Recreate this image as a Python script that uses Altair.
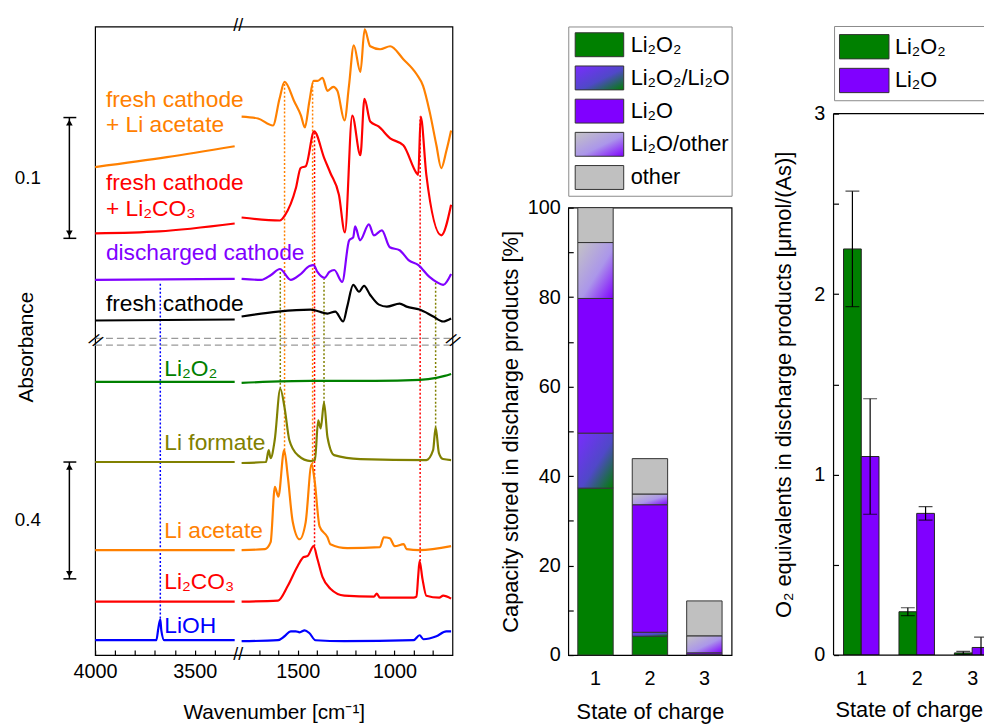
import altair as alt
import pandas as pd

FONT = "Liberation Sans"
ORANGE, RED, PURPLE, BLACK = "#ff8000", "#ff0000", "#8000ff", "#000000"
GREEN, OLIVE, BLUE, GRAY = "#008000", "#808000", "#0000ff", "#c0c0c0"

# ---------------- FTIR spectra ----------------
# (wavenumber [cm-1], stacked absorbance offset [a.u.]);  _HI: 4000-3300, _FP: 1790-700
CAT_ACET_HI = [(4000, 493), (3640, 503), (3300, 514)]
CAT_ACET_FP = [(1790, 544), (1705, 542), (1628, 535), (1594, 562), (1568, 579), (1517, 559),
               (1483, 545), (1463, 533), (1440, 559), (1418, 580), (1398, 580), (1372, 583),
               (1346, 570), (1316, 574), (1295, 570), (1258, 540), (1235, 575), (1210, 616),
               (1176, 589), (1154, 632), (1125, 615), (1074, 612), (1022, 615), (954, 602),
               (886, 587), (852, 575), (818, 549), (783, 515), (758, 492), (732, 509), (707, 530)]
CAT_CARB_HI = [(4000, 426), (3680, 428), (3300, 436)]
CAT_CARB_FP = [(1792, 442), (1592, 439), (1567, 444), (1509, 472), (1485, 492), (1458, 494),
               (1415, 529), (1363, 502), (1331, 487), (1287, 465), (1256, 427), (1218, 545),
               (1176, 505), (1155, 562), (1125, 539), (1082, 534), (1022, 522), (954, 515),
               (886, 487), (877, 485), (864, 544), (835, 485), (758, 424), (707, 455)]
DISCH_HI = [(4000, 379), (3300, 380)]
DISCH_FP = [(1792, 380), (1689, 379), (1638, 384), (1592, 390), (1536, 379), (1490, 384),
            (1439, 393), (1418, 394), (1398, 387), (1362, 381), (1336, 387), (1311, 389),
            (1270, 377), (1234, 419), (1213, 422), (1203, 433), (1178, 419), (1132, 435),
            (1106, 424), (1065, 429), (1024, 412), (973, 409), (927, 399), (876, 394),
            (819, 382), (783, 377), (748, 374), (707, 385)]
FRESH_HI = [(4000, 338), (3300, 339)]
FRESH_FP = [(1792, 342), (1602, 347), (1433, 349), (1346, 345), (1306, 347), (1265, 337),
            (1244, 352), (1213, 374), (1183, 367), (1157, 373), (1126, 364), (1080, 354),
            (1039, 352), (973, 355), (937, 352), (870, 349), (799, 342), (748, 337), (707, 340)]
LI2O2_HI = [(4000, 276), (3300, 276)]
LI2O2_FP = [(1792, 275), (1433, 277), (1100, 277), (869, 278), (783, 280), (740, 282), (707, 284)]
FORMATE_HI = [(4000, 195), (3300, 195)]
FORMATE_FP = [(1792, 194), (1664, 195), (1650, 207), (1640, 199), (1619, 217), (1590, 269),
              (1568, 250), (1543, 217), (1500, 202), (1432, 196), (1411, 197), (1394, 237),
              (1381, 229), (1364, 255), (1346, 220), (1312, 202), (1176, 198), (835, 197),
              (800, 207), (787, 230), (770, 204), (749, 198), (707, 197)]
ACETATE_HI = [(4000, 106), (3300, 106)]
ACETATE_FP = [(1792, 106), (1669, 107), (1640, 114), (1618, 170), (1600, 160), (1570, 207),
              (1551, 180), (1526, 135), (1490, 117), (1459, 134), (1428, 193), (1413, 177),
              (1387, 130), (1346, 119), (1331, 112), (1244, 108), (1075, 109), (1055, 119),
              (1024, 118), (998, 110), (952, 112), (937, 107), (870, 106), (707, 110)]
CARB_HI = [(4000, 54), (3300, 54)]
CARB_FP = [(1792, 54), (1602, 55), (1551, 70), (1500, 90), (1469, 99), (1449, 100), (1418, 110),
           (1398, 97), (1372, 79), (1331, 67), (1259, 60), (1106, 59), (1091, 62), (1075, 58),
           (901, 58), (886, 59), (877, 80), (870, 95), (855, 77), (835, 60), (768, 58),
           (748, 60), (707, 57)]
LIOH_HI = [(4000, 15), (3693, 15), (3683, 27), (3673, 36), (3668, 25), (3653, 15), (3300, 15)]
LIOH_FP = [(1792, 14), (1602, 15), (1568, 19), (1536, 24), (1510, 24), (1490, 23), (1464, 25),
           (1439, 22), (1408, 15), (1259, 14), (901, 15), (870, 20), (850, 16), (783, 19),
           (732, 24), (707, 24)]

SPECTRA = [
    ("fresh cathode + Li acetate", ORANGE, CAT_ACET_HI, CAT_ACET_FP),
    ("fresh cathode + Li2CO3", RED, CAT_CARB_HI, CAT_CARB_FP),
    ("discharged cathode", PURPLE, DISCH_HI, DISCH_FP),
    ("fresh cathode", BLACK, FRESH_HI, FRESH_FP),
    ("Li2O2", GREEN, LI2O2_HI, LI2O2_FP),
    ("Li formate", OLIVE, FORMATE_HI, FORMATE_FP),
    ("Li acetate", ORANGE, ACETATE_HI, ACETATE_FP),
    ("Li2CO3", RED, CARB_HI, CARB_FP),
    ("LiOH", BLUE, LIOH_HI, LIOH_FP),
]

# dotted guide lines: wavenumber, lower / upper end, colour
GUIDE_WN = [3673, 1590, 1364, 787, 1568, 1423, 1413, 867]
GUIDE_LO = [37, 269, 255, 230, 207, 193, 110, 95]
GUIDE_HI = [375, 389, 380, 377, 579, 578, 529, 544]
GUIDE_COLOR = [BLUE, OLIVE, OLIVE, OLIVE, ORANGE, ORANGE, RED, RED]

# curve labels
LABEL_TEXT = ["fresh cathode", "+ Li acetate", "fresh cathode", "+ Li₂CO₃", "discharged cathode",
              "fresh cathode", "Li₂O₂", "Li formate", "Li acetate", "Li₂CO₃", "LiOH"]
LABEL_WN = [3946, 3946, 3946, 3946, 3946, 3946, 3653, 3653, 3653, 3653, 3653]
LABEL_Y = [561, 535, 477, 451, 406, 355, 289, 214, 125, 74, 29]
LABEL_COLOR = [ORANGE, ORANGE, RED, RED, PURPLE, BLACK, GREEN, OLIVE, ORANGE, RED, BLUE]

BREAK_Y = [320, 313]                       # grey dashed axis-break lines
SCALEBAR_LABEL = ["0.1", "0.4"]
SCALEBAR_LO = [421, 77]
SCALEBAR_HI = [543, 195]

X_TICKS = [4000, 3900, 3800, 3700, 3600, 3500, 3400,
           1700, 1600, 1500, 1400, 1300, 1200, 1100, 1000, 900, 800]

# ---------------- middle: capacity shares ----------------
STATES = ["1", "2", "3"]
MID_CATS = ["Li2O2", "Li2O2/Li2O", "Li2O", "Li2O/other", "other"]
MID_LABELS = ["Li₂O₂", "Li₂O₂/Li₂O", "Li₂O", "Li₂O/other", "other"]
MID_VALUES = {
    "Li2O2": [37.3, 4.2, 0.1],
    "Li2O2/Li2O": [12.3, 0.9, 0.0],
    "Li2O": [30.1, 28.5, 0.4],
    "Li2O/other": [12.5, 2.4, 3.8],
    "other": [7.8, 7.9, 7.8],
}

# ---------------- right: O2 equivalents ----------------
R_STATES = [1, 2, 3]
R_LI2O2 = [2.25, 0.24, 0.012]
R_LI2O2_ERR = [0.32, 0.022, 0.008]
R_LI2O = [1.10, 0.785, 0.042]
R_LI2O_ERR = [0.32, 0.037, 0.057]

# ======================= build =======================
rows = []
for name, col, hi, fp in SPECTRA:
    for part, pts in (("hi", hi), ("fp", fp)):
        for wn, y in pts:
            rows.append({"curve": name, "seg": f"{name}|{part}", "wn": wn, "y": y, "color": col})
spec_df = pd.DataFrame(rows)

H = 635
X_SCALE = alt.Scale(domain=[4000, 3300, 1790, 700], range=[0, 141, 148, 361], nice=False, zero=False)
Y_SCALE = alt.Scale(domain=[0, H], nice=False, zero=False)
x_axis = alt.Axis(title="Wavenumber [cm⁻¹]", values=X_TICKS, format="d",
                  labelExpr="datum.value % 500 === 0 ? datum.label : ''",
                  offset=-5, tickSize=5, domain=False, grid=False, labelPadding=7,
                  titlePadding=20, labelFlush=False, labelOverlap=False,
                  titleFontSize=21, labelFontSize=20)
XE = alt.X("wn:Q", scale=X_SCALE, axis=x_axis)
YE = alt.Y("y:Q", scale=Y_SCALE, axis=None)

guide_df = pd.DataFrame({"wn": GUIDE_WN, "y": GUIDE_LO, "y2": GUIDE_HI, "color": GUIDE_COLOR})
guides = alt.Chart(guide_df).mark_rule(strokeDash=[2, 2], strokeWidth=1.5).encode(
    x=XE, y=YE, y2="y2:Q", color=alt.Color("color:N", scale=None))

brk_df = pd.DataFrame({"wn": [4000] * 2, "wn2": [700] * 2, "y": BREAK_Y})
brk_lines = alt.Chart(brk_df).mark_rule(strokeDash=[7, 4], strokeWidth=1.3, color="#999999").encode(
    x=XE, x2="wn2:Q", y=YE)

lines = alt.Chart(spec_df).mark_line(strokeWidth=2.2, clip=True, interpolate="monotone").encode(
    x=XE, y=YE, detail="seg:N", color=alt.Color("color:N", scale=None))

lab_df = pd.DataFrame({"wn": LABEL_WN, "y": LABEL_Y, "text": LABEL_TEXT, "color": LABEL_COLOR})
labels = alt.Chart(lab_df).mark_text(align="left", baseline="middle", fontSize=23).encode(
    x=XE, y=YE, text="text:N", color=alt.Color("color:N", scale=None))

xbrk_df = pd.DataFrame({"wn": [2545, 2545], "y": [H, 0], "t": ["//", "//"]})
xbrk = alt.Chart(xbrk_df).mark_text(fontSize=18, baseline="middle", color="black").encode(
    x=XE, y=YE, text="t:N")
ybrk_df = pd.DataFrame({"wn": [4000, 700], "y": [317, 317], "t": ["//", "//"]})
ybrk = alt.Chart(ybrk_df).mark_text(fontSize=18, baseline="middle", color="black", angle=35).encode(
    x=XE, y=YE, text="t:N")

B = alt.layer(guides, brk_lines, lines, labels, xbrk, ybrk).properties(width=361, height=H)

# --- left annotation strip (Absorbance + scale bars)
YA = alt.Y("y:Q", scale=Y_SCALE, axis=None)
sb_df = pd.DataFrame({"label": SCALEBAR_LABEL, "lo": SCALEBAR_LO, "hi": SCALEBAR_HI})
sb_df["y"] = (sb_df["lo"] + sb_df["hi"]) / 2
sb_text = alt.Chart(sb_df).mark_text(fontSize=19, baseline="middle").encode(
    x=alt.value(19), y=YA, text="label:N")
sb_rule = alt.Chart(sb_df).mark_rule(strokeWidth=1.5, color="black").encode(
    x=alt.value(61), y=alt.Y("lo:Q", scale=Y_SCALE, axis=None), y2="hi:Q")
sb_cap_lo = alt.Chart(sb_df).mark_rule(strokeWidth=1.5, color="black").encode(
    x=alt.value(55), x2=alt.value(68), y=alt.Y("lo:Q", scale=Y_SCALE, axis=None))
sb_cap_hi = alt.Chart(sb_df).mark_rule(strokeWidth=1.5, color="black").encode(
    x=alt.value(55), x2=alt.value(68), y=alt.Y("hi:Q", scale=Y_SCALE, axis=None))
sb_arr_hi = alt.Chart(sb_df).mark_point(shape="triangle-up", filled=True, size=45, color="black",
                                        opacity=1, yOffset=5).encode(
    x=alt.value(61), y=alt.Y("hi:Q", scale=Y_SCALE, axis=None))
sb_arr_lo = alt.Chart(sb_df).mark_point(shape="triangle-down", filled=True, size=45, color="black",
                                        opacity=1, yOffset=-5).encode(
    x=alt.value(61), y=alt.Y("lo:Q", scale=Y_SCALE, axis=None))
abs_df = pd.DataFrame({"t": ["Absorbance"], "y": [311]})
abs_text = alt.Chart(abs_df).mark_text(angle=270, fontSize=21, baseline="middle").encode(
    x=alt.value(18), y=YA, text="t:N")
A = alt.layer(abs_text, sb_rule, sb_cap_lo, sb_cap_hi, sb_arr_hi, sb_arr_lo, sb_text).properties(
    width=87, height=H, view=alt.ViewBackground(stroke="transparent"))

# --- middle stacked bars
GRAD_MIX = alt.LinearGradient(gradient="linear", x1=0, y1=0, x2=1, y2=1, stops=[
    alt.GradientStop(color="#7a2cff", offset=0), alt.GradientStop(color="#5048c8", offset=0.55),
    alt.GradientStop(color="#008000", offset=1)])
GRAD_OTHER = alt.LinearGradient(gradient="linear", x1=0, y1=0, x2=1, y2=1, stops=[
    alt.GradientStop(color="#c4c4c4", offset=0), alt.GradientStop(color="#ab96ea", offset=0.55),
    alt.GradientStop(color="#8000ff", offset=1)])
FILLS = {"Li2O2": GREEN, "Li2O2/Li2O": GRAD_MIX, "Li2O": PURPLE, "Li2O/other": GRAD_OTHER,
         "other": GRAY}

mrows = []
for i, s in enumerate(STATES):
    base = 0.0
    for c in MID_CATS:
        v = MID_VALUES[c][i]
        mrows.append({"state": s, "cat": c, "lo": base, "hi": base + v})
        base += v
mid_df = pd.DataFrame(mrows)

mid_xaxis = alt.Axis(title="State of charge", labelAngle=0, ticks=False, domain=False,
                     labelPadding=14, titlePadding=13, labelFontSize=20, titleFontSize=22)
mid_yaxis = alt.Axis(title="Capacity stored in discharge products [%]", values=list(range(0, 101, 10)),
                     labelExpr="datum.value % 20 === 0 ? datum.label : ''", offset=-5, tickSize=5,
                     domain=False, grid=False, labelPadding=8, titlePadding=5,
                     labelOverlap=False, labelFlush=False, labelFontSize=20, titleFontSize=22)
XM = alt.X("state:N", scale=alt.Scale(domain=STATES, paddingInner=0.35, paddingOuter=0.175), axis=mid_xaxis)
YM = alt.Y("lo:Q", scale=alt.Scale(domain=[0, 100], nice=False, zero=False), axis=mid_yaxis)
mid_layers = [alt.Chart(mid_df[mid_df["cat"] == c]).mark_bar(fill=FILLS[c], stroke="#333333",
                                                            strokeWidth=1).encode(x=XM, y=YM, y2="hi:Q")
              for c in MID_CATS]
mid_plot = alt.layer(*mid_layers).properties(width=165, height=452)

LYM = alt.Y("key:N", scale=alt.Scale(domain=MID_CATS, paddingInner=0.28, paddingOuter=0.19), axis=None)
leg_df = pd.DataFrame({"key": MID_CATS, "label": MID_LABELS})
mid_leg_layers = [alt.Chart(leg_df[leg_df["key"] == c]).mark_rect(fill=FILLS[c], stroke="#333333",
                                                                  strokeWidth=1).encode(
    x=alt.value(7), x2=alt.value(56), y=LYM) for c in MID_CATS]
mid_leg_text = alt.Chart(leg_df).mark_text(align="left", baseline="middle", fontSize=22).encode(
    x=alt.value(63), y=LYM, text="label:N")
mid_leg = alt.layer(*mid_leg_layers, mid_leg_text).properties(
    width=165, height=171, view=alt.ViewBackground(stroke="#8a8a8a", strokeWidth=1))

MID = alt.vconcat(mid_leg, mid_plot, spacing=12, bounds="flush")

# --- right grouped bars with error bars
RW, RH = 152, 547
BW = 0.32
rrows = []
for i, s in enumerate(R_STATES):
    rrows.append({"series": "Li2O2", "x_lo": s - BW, "x_hi": s, "val": R_LI2O2[i],
                  "err": R_LI2O2_ERR[i], "color": GREEN})
    rrows.append({"series": "Li2O", "x_lo": s, "x_hi": s + BW, "val": R_LI2O[i],
                  "err": R_LI2O_ERR[i], "color": PURPLE})
r_df = pd.DataFrame(rrows)
r_df["xc"] = (r_df["x_lo"] + r_df["x_hi"]) / 2
r_df["base"] = 0.0
r_df["elo"] = r_df["val"] - r_df["err"]
r_df["ehi"] = r_df["val"] + r_df["err"]

R_XSCALE = alt.Scale(domain=[0.5, 0.5 + RW / 56], nice=False, zero=False)
R_YSCALE = alt.Scale(domain=[0, 3], nice=False, zero=False)
r_xaxis = alt.Axis(title="State of charge", values=R_STATES, format="d", ticks=False, domain=False,
                   grid=False, labelPadding=14, titlePadding=11, labelFontSize=20, titleFontSize=22)
r_yaxis = alt.Axis(title="O₂ equivalents in discharge products [μmol/(As)]",
                   values=[0, 0.5, 1, 1.5, 2, 2.5, 3], format=".0f",
                   labelExpr="datum.value % 1 === 0 ? datum.label : ''", offset=-5, tickSize=5,
                   domain=False, grid=False, labelPadding=9, titlePadding=18,
                   labelOverlap=False, labelFlush=False, labelFontSize=20, titleFontSize=22)
r_bars = alt.Chart(r_df).mark_bar(stroke="#222222", strokeWidth=1, clip=True).encode(
    x=alt.X("x_lo:Q", scale=R_XSCALE, axis=r_xaxis), x2="x_hi:Q",
    y=alt.Y("val:Q", scale=R_YSCALE, axis=r_yaxis), y2="base:Q",
    fill=alt.Fill("color:N", scale=None))
r_err = alt.Chart(r_df).mark_rule(color="black", strokeWidth=1.2, clip=True).encode(
    x=alt.X("xc:Q", scale=R_XSCALE, axis=r_xaxis),
    y=alt.Y("elo:Q", scale=R_YSCALE, axis=r_yaxis), y2="ehi:Q")
r_cap_lo = alt.Chart(r_df).mark_tick(orient="horizontal", size=14, thickness=1.2, color="black",
                                     clip=True).encode(
    x=alt.X("xc:Q", scale=R_XSCALE, axis=r_xaxis), y=alt.Y("elo:Q", scale=R_YSCALE, axis=r_yaxis))
r_cap_hi = alt.Chart(r_df).mark_tick(orient="horizontal", size=14, thickness=1.2, color="black",
                                     clip=True).encode(
    x=alt.X("xc:Q", scale=R_XSCALE, axis=r_xaxis), y=alt.Y("ehi:Q", scale=R_YSCALE, axis=r_yaxis))
one = pd.DataFrame({"k": [0]})
fr_left = alt.Chart(one).mark_rule(color="black", strokeWidth=1.2).encode(
    x=alt.value(0), y=alt.value(0), y2=alt.value(RH))
fr_top = alt.Chart(one).mark_rule(color="black", strokeWidth=1.2).encode(
    x=alt.value(0), x2=alt.value(RW), y=alt.value(0))
fr_bot = alt.Chart(one).mark_rule(color="black", strokeWidth=1.2).encode(
    x=alt.value(0), x2=alt.value(RW), y=alt.value(RH))
r_plot = alt.layer(r_bars, r_err, r_cap_lo, r_cap_hi, fr_left, fr_top, fr_bot).properties(
    width=RW, height=RH, view=alt.ViewBackground(stroke="transparent"))

R_KEYS = ["Li2O2", "Li2O"]
R_LABELS = ["Li₂O₂", "Li₂O"]
R_FILLS = {"Li2O2": GREEN, "Li2O": PURPLE}
LYR = alt.Y("key:N", scale=alt.Scale(domain=R_KEYS, paddingInner=0.28, paddingOuter=0.24), axis=None)
rleg_df = pd.DataFrame({"key": R_KEYS, "label": R_LABELS})
r_leg_layers = [alt.Chart(rleg_df[rleg_df["key"] == k]).mark_rect(fill=R_FILLS[k], stroke="#333333",
                                                                  strokeWidth=1).encode(
    x=alt.value(6), x2=alt.value(56), y=LYR) for k in R_KEYS]
r_leg_text = alt.Chart(rleg_df).mark_text(align="left", baseline="middle", fontSize=22).encode(
    x=alt.value(62), y=LYR, text="label:N")
lb_left = alt.Chart(one).mark_rule(color="#8a8a8a", strokeWidth=1).encode(
    x=alt.value(1), y=alt.value(0), y2=alt.value(75))
lb_top = alt.Chart(one).mark_rule(color="#8a8a8a", strokeWidth=1).encode(
    x=alt.value(1), x2=alt.value(RW), y=alt.value(0))
lb_bot = alt.Chart(one).mark_rule(color="#8a8a8a", strokeWidth=1).encode(
    x=alt.value(1), x2=alt.value(RW), y=alt.value(75))
r_leg = alt.layer(*r_leg_layers, r_leg_text, lb_left, lb_top, lb_bot).properties(
    width=RW, height=75, view=alt.ViewBackground(stroke="transparent"))

RIGHT = alt.vconcat(r_leg, r_plot, spacing=13, bounds="flush")


def spacer(w):
    return alt.Chart(one).mark_point(opacity=0).encode(x=alt.value(0), y=alt.value(0)).properties(
        width=w, height=10, view=alt.ViewBackground(stroke="transparent"))


# nested (flush) concats count as zero width, so the second spacer also spans the middle panel
chart = alt.hconcat(A, B, spacer(117), MID, spacer(165 + 103), RIGHT, spacing=0, bounds="flush").properties(
    padding={"left": 0, "top": 5, "right": 0, "bottom": 0}
).configure(font=FONT).configure_view(stroke="black", strokeWidth=1.2).configure_axis(
    labelColor="black", titleColor="black", titleFontWeight="normal", tickColor="black",
    tickWidth=1.2, labelFont=FONT, titleFont=FONT)

chart.save("out.html", embed_options={"renderer": "svg", "actions": False})
